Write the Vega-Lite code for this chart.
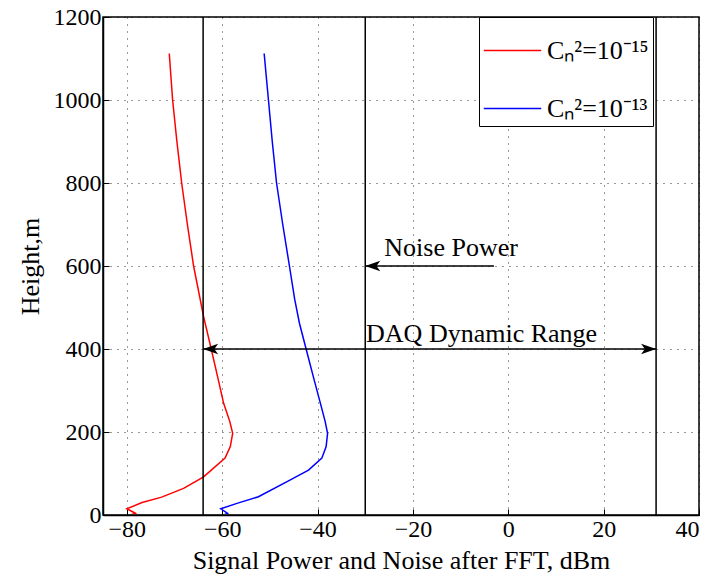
{
  "$schema": "https://vega.github.io/schema/vega-lite/v6.json",
  "width": 596,
  "height": 498,
  "autosize": {"type": "none"},
  "padding": {"left": 103, "top": 17, "right": 18, "bottom": 66},
  "background": "white",
  "config": {
    "font": "Liberation Serif",
    "view": {"stroke": "black", "strokeWidth": 1.5},
    "axis": {
      "labelFont": "Liberation Serif",
      "titleFont": "Liberation Serif",
      "labelFontSize": 24,
      "titleFontSize": 26,
      "titleFontWeight": "normal",
      "labelColor": "black",
      "titleColor": "black",
      "domainColor": "black",
      "domainWidth": 1.5,
      "ticks": true,
      "tickColor": "black",
      "tickWidth": 1,
      "tickSize": -6,
      "grid": true,
      "gridColor": "black",
      "gridDash": [1, 6],
      "gridOpacity": 0.8,
      "gridWidth": 1
    }
  },
  "datasets": {
    "curves": [
      {"series": "C\u2099\u00b2=10\u207b\u00b9\u2075", "i": 1, "x": -71.1, "h": 1112},
      {"series": "C\u2099\u00b2=10\u207b\u00b9\u2075", "i": 2, "x": -70.4, "h": 1000},
      {"series": "C\u2099\u00b2=10\u207b\u00b9\u2075", "i": 3, "x": -69.5, "h": 900},
      {"series": "C\u2099\u00b2=10\u207b\u00b9\u2075", "i": 4, "x": -68.5, "h": 800},
      {"series": "C\u2099\u00b2=10\u207b\u00b9\u2075", "i": 5, "x": -67.3, "h": 700},
      {"series": "C\u2099\u00b2=10\u207b\u00b9\u2075", "i": 6, "x": -66.0, "h": 600},
      {"series": "C\u2099\u00b2=10\u207b\u00b9\u2075", "i": 7, "x": -63.9, "h": 478},
      {"series": "C\u2099\u00b2=10\u207b\u00b9\u2075", "i": 8, "x": -62.3, "h": 400},
      {"series": "C\u2099\u00b2=10\u207b\u00b9\u2075", "i": 9, "x": -60.8, "h": 325},
      {"series": "C\u2099\u00b2=10\u207b\u00b9\u2075", "i": 10, "x": -59.7, "h": 269},
      {"series": "C\u2099\u00b2=10\u207b\u00b9\u2075", "i": 11, "x": -58.4, "h": 225},
      {"series": "C\u2099\u00b2=10\u207b\u00b9\u2075", "i": 12, "x": -57.8, "h": 197},
      {"series": "C\u2099\u00b2=10\u207b\u00b9\u2075", "i": 13, "x": -58.3, "h": 165},
      {"series": "C\u2099\u00b2=10\u207b\u00b9\u2075", "i": 14, "x": -59.4, "h": 137},
      {"series": "C\u2099\u00b2=10\u207b\u00b9\u2075", "i": 15, "x": -63.9, "h": 92},
      {"series": "C\u2099\u00b2=10\u207b\u00b9\u2075", "i": 16, "x": -68.1, "h": 64},
      {"series": "C\u2099\u00b2=10\u207b\u00b9\u2075", "i": 17, "x": -72.7, "h": 43},
      {"series": "C\u2099\u00b2=10\u207b\u00b9\u2075", "i": 18, "x": -76.8, "h": 30},
      {"series": "C\u2099\u00b2=10\u207b\u00b9\u2075", "i": 19, "x": -80.0, "h": 15},
      {"series": "C\u2099\u00b2=10\u207b\u00b9\u2075", "i": 20, "x": -78.0, "h": 3},
      {"series": "C\u2099\u00b2=10\u207b\u00b9\u2075", "i": 21, "x": -79.0, "h": 6},
      {"series": "C\u2099\u00b2=10\u207b\u00b9\u00b3", "i": 1, "x": -51.2, "h": 1112},
      {"series": "C\u2099\u00b2=10\u207b\u00b9\u00b3", "i": 2, "x": -50.3, "h": 1000},
      {"series": "C\u2099\u00b2=10\u207b\u00b9\u00b3", "i": 3, "x": -49.5, "h": 900},
      {"series": "C\u2099\u00b2=10\u207b\u00b9\u00b3", "i": 4, "x": -48.6, "h": 800},
      {"series": "C\u2099\u00b2=10\u207b\u00b9\u00b3", "i": 5, "x": -47.3, "h": 700},
      {"series": "C\u2099\u00b2=10\u207b\u00b9\u00b3", "i": 6, "x": -45.9, "h": 600},
      {"series": "C\u2099\u00b2=10\u207b\u00b9\u00b3", "i": 7, "x": -44.8, "h": 520},
      {"series": "C\u2099\u00b2=10\u207b\u00b9\u00b3", "i": 8, "x": -43.8, "h": 462},
      {"series": "C\u2099\u00b2=10\u207b\u00b9\u00b3", "i": 9, "x": -42.4, "h": 400},
      {"series": "C\u2099\u00b2=10\u207b\u00b9\u00b3", "i": 10, "x": -40.7, "h": 325},
      {"series": "C\u2099\u00b2=10\u207b\u00b9\u00b3", "i": 11, "x": -39.4, "h": 269},
      {"series": "C\u2099\u00b2=10\u207b\u00b9\u00b3", "i": 12, "x": -38.4, "h": 225},
      {"series": "C\u2099\u00b2=10\u207b\u00b9\u00b3", "i": 13, "x": -37.9, "h": 197},
      {"series": "C\u2099\u00b2=10\u207b\u00b9\u00b3", "i": 14, "x": -38.2, "h": 165},
      {"series": "C\u2099\u00b2=10\u207b\u00b9\u00b3", "i": 15, "x": -39.1, "h": 137},
      {"series": "C\u2099\u00b2=10\u207b\u00b9\u00b3", "i": 16, "x": -41.9, "h": 108},
      {"series": "C\u2099\u00b2=10\u207b\u00b9\u00b3", "i": 17, "x": -45.8, "h": 84},
      {"series": "C\u2099\u00b2=10\u207b\u00b9\u00b3", "i": 18, "x": -52.4, "h": 44},
      {"series": "C\u2099\u00b2=10\u207b\u00b9\u00b3", "i": 19, "x": -56.9, "h": 28},
      {"series": "C\u2099\u00b2=10\u207b\u00b9\u00b3", "i": 20, "x": -60.3, "h": 15},
      {"series": "C\u2099\u00b2=10\u207b\u00b9\u00b3", "i": 21, "x": -58.7, "h": 3},
      {"series": "C\u2099\u00b2=10\u207b\u00b9\u00b3", "i": 22, "x": -59.5, "h": 6}
    ],
    "vlines": [{"v": -64}, {"v": -30}, {"v": 31}],
    "shafts": [
      {"x1": -3, "x2": -30, "y": 600},
      {"x1": -64, "x2": 31, "y": 400}
    ],
    "heads": [
      {"x": -30, "y": 600, "dir": "left"},
      {"x": -64, "y": 400, "dir": "left"},
      {"x": 31, "y": 400, "dir": "right"}
    ],
    "notes": [
      {"x": -12, "y": 624, "text": "Noise Power"},
      {"x": -5.6, "y": 418, "text": "DAQ Dynamic Range"}
    ]
  },
  "layer": [
    {
      "data": {"name": "curves"},
      "mark": {"type": "line", "strokeWidth": 1.5},
      "encoding": {
        "x": {
          "field": "x", "type": "quantitative",
          "scale": {"domain": [-85, 40], "nice": false, "zero": false},
          "axis": {"values": [-80, -60, -40, -20, 0, 20, 40], "title": "Signal Power and Noise after FFT, dBm", "labelPadding": 8, "titlePadding": 6}
        },
        "y": {
          "field": "h", "type": "quantitative",
          "scale": {"domain": [0, 1200], "nice": false},
          "axis": {"values": [0, 200, 400, 600, 800, 1000, 1200], "format": "d", "title": "Height,m", "labelPadding": 8, "titlePadding": 10}
        },
        "color": {
          "field": "series", "type": "nominal",
          "scale": {"domain": ["C\u2099\u00b2=10\u207b\u00b9\u2075", "C\u2099\u00b2=10\u207b\u00b9\u00b3"], "range": ["#ff0000", "#0000ff"]},
          "legend": {
            "orient": "none", "legendX": 376, "legendY": 0,
            "title": null, "strokeColor": "black", "fillColor": "white",
            "padding": 4, "symbolType": "stroke", "symbolSize": 3300,
            "symbolStrokeWidth": 1.5, "labelFontSize": 26, "labelFont": "Liberation Serif",
            "labelColor": "black", "rowPadding": 15, "labelOffset": 5
          }
        },
        "order": {"field": "i", "type": "quantitative"}
      }
    },
    {
      "data": {"name": "vlines"},
      "mark": {"type": "rule", "color": "black", "strokeWidth": 1.5},
      "encoding": {"x": {"field": "v", "type": "quantitative"}}
    },
    {
      "data": {"name": "shafts"},
      "mark": {"type": "rule", "color": "black", "strokeWidth": 1.5},
      "encoding": {
        "x": {"field": "x1", "type": "quantitative"},
        "x2": {"field": "x2"},
        "y": {"field": "y", "type": "quantitative"}
      }
    },
    {
      "data": {"name": "heads"},
      "transform": [{"filter": "datum.dir == 'left'"}],
      "mark": {"type": "point", "shape": "M0,0 L2,-0.7 L1.5,0 L2,0.7 Z", "filled": true, "color": "black", "opacity": 1, "size": 225},
      "encoding": {
        "x": {"field": "x", "type": "quantitative"},
        "y": {"field": "y", "type": "quantitative"}
      }
    },
    {
      "data": {"name": "heads"},
      "transform": [{"filter": "datum.dir == 'right'"}],
      "mark": {"type": "point", "shape": "M0,0 L-2,-0.7 L-1.5,0 L-2,0.7 Z", "filled": true, "color": "black", "opacity": 1, "size": 225},
      "encoding": {
        "x": {"field": "x", "type": "quantitative"},
        "y": {"field": "y", "type": "quantitative"}
      }
    },
    {
      "data": {"name": "notes"},
      "mark": {"type": "text", "font": "Liberation Serif", "fontSize": 26, "align": "center", "baseline": "alphabetic", "color": "black"},
      "encoding": {
        "x": {"field": "x", "type": "quantitative"},
        "y": {"field": "y", "type": "quantitative"},
        "text": {"field": "text"}
      }
    }
  ]
}
